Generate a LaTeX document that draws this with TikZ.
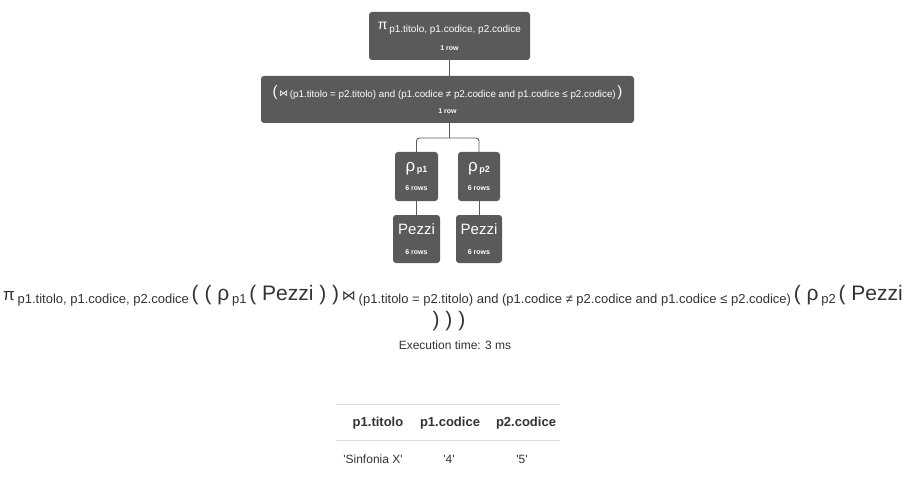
\documentclass[tikz,border=0pt]{standalone}
\usepackage{fontspec}
\setmainfont{Liberation Sans}
\newfontfamily\symfont{DejaVu Sans}
\usetikzlibrary{positioning}

\definecolor{opfill}{HTML}{5A5A5A}
\definecolor{inktext}{HTML}{333333}
\definecolor{rulegray}{HTML}{DEDEDE}

\newcommand{\fsz}[1]{\fontsize{#1}{#1}\selectfont}
\newcommand{\rowcount}[1]{{\fsz{7}\bfseries #1}}
\newcommand{\lowsub}[2]{\raisebox{-#1pt}{#2}}

\begin{document}
\begin{tikzpicture}[x=1pt,y=-1pt]
    \tikzset{OpStyle/.style   = {shape          = rectangle,
                                 rounded corners = 3pt,
                                 fill           = opfill,
                                 text           = white,
                                 align          = center,
                                 inner sep      = 0pt}}
    \tikzset{LinkStyle/.style = {draw           = opfill,
                                 line width     = 0.9pt}}
    \tikzset{ExprStyle/.style = {text           = inktext,
                                 inner sep      = 0pt}}
    \useasboundingbox (0,0) rectangle (916,500);
    % operator tree
    \node[OpStyle, minimum width = 161, minimum height = 48] (proj) at (449.5,36)
        {\raisebox{2pt}{\fsz{14}π}\,\lowsub{1}{\fsz{10}p1.titolo, p1.codice, p2.codice}\\[7pt]\rowcount{1 row}};
    \node[OpStyle, minimum width = 373, minimum height = 47] (join) at (447.5,99.5)
        {{\fsz{15}(}\,{\symfont\fsz{9}⋈}\,\lowsub{1}{\fsz{9.8}(p1.titolo = p2.titolo) and (p1.codice ≠ p2.codice and p1.codice ≤ p2.codice)}\,{\fsz{15})}\\[5pt]\rowcount{1 row}};
    \node[OpStyle, minimum width = 43, minimum height = 49] (rho1) at (416.5,176.5)
        {{\fsz{17}ρ}\,\lowsub{1}{\fsz{9}\bfseries p1}\\[7pt]\rowcount{6 rows}};
    \node[OpStyle, minimum width = 42, minimum height = 49] (rho2) at (479,176.5)
        {{\fsz{17}ρ}\,\lowsub{1}{\fsz{9}\bfseries p2}\\[7pt]\rowcount{6 rows}};
    \node[OpStyle, minimum width = 47, minimum height = 48] (pezzi1) at (416.5,239)
        {{\fsz{15}Pezzi}\\[8pt]\rowcount{6 rows}};
    \node[OpStyle, minimum width = 46, minimum height = 48] (pezzi2) at (479,239)
        {{\fsz{15}Pezzi}\\[8pt]\rowcount{6 rows}};
    \coordinate (split) at (449,138);
    \draw[LinkStyle] (proj.south) -- (proj.south |- join.north);
    \draw[LinkStyle] (split |- join.south) -- (split);
    \draw[LinkStyle, rounded corners = 3pt] (rho1.north) |- (split) -| (rho2.north);
    \draw[LinkStyle] (rho1.south) -- (pezzi1.north);
    \draw[LinkStyle] (rho2.south) -- (pezzi2.north);
    % expression
    \node[ExprStyle, anchor = base] (expr) at (453,300)
        {{\fsz{17}π} \lowsub{3}{\fsz{13}p1.titolo, p1.codice, p2.codice} {\fsz{21}( ( ρ} \lowsub{3}{\fsz{13}p1} {\fsz{21}( Pezzi ) )} {\symfont\fsz{14}⋈} \lowsub{3}{\fsz{13}(p1.titolo = p2.titolo) and (p1.codice ≠ p2.codice and p1.codice ≤ p2.codice)} {\fsz{21}( ρ} \lowsub{3}{\fsz{13}p2} {\fsz{21}( Pezzi}};
    \node[ExprStyle, anchor = base] (exprend) at (449,326) {\fsz{21}) ) )};
    \node[ExprStyle, anchor = base] (timing) at (455,349) {\fsz{12}Execution time: 3 ms};
    % result table
    \draw[rulegray, line width = 0.8pt] (336,404) -- (560,404);
    \draw[rulegray, line width = 0.8pt] (336,440) -- (560,440);
    \node[ExprStyle, anchor = base] (hdtitolo)  at (378,426) {\fsz{13}\bfseries p1.titolo};
    \node[ExprStyle, anchor = base] (hdcodice1) at (450,426) {\fsz{13}\bfseries p1.codice};
    \node[ExprStyle, anchor = base] (hdcodice2) at (526,426) {\fsz{13}\bfseries p2.codice};
    \node[ExprStyle, anchor = base] (valtitolo)  at (373,463) {\fsz{12}\textquotesingle Sinfonia X\textquotesingle};
    \node[ExprStyle, anchor = base] (valcodice1) at (449,463) {\fsz{12}\textquotesingle 4\textquotesingle};
    \node[ExprStyle, anchor = base] (valcodice2) at (522,463) {\fsz{12}\textquotesingle 5\textquotesingle};
\end{tikzpicture}
\end{document}
